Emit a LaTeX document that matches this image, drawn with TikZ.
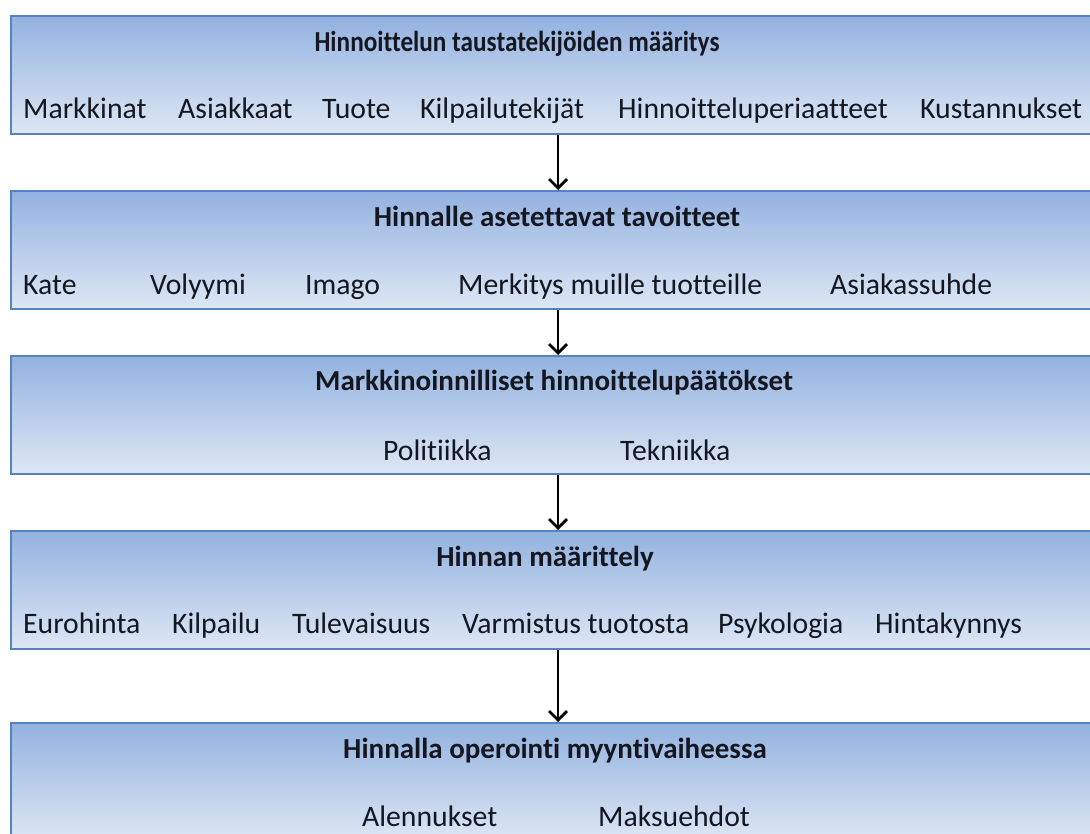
\documentclass[tikz,border=0pt]{standalone}
\usepackage{fontspec}
\setmainfont{Carlito}[Ligatures={NoCommon}]
\usetikzlibrary{arrows.meta}
\definecolor{boxtop}{RGB}{147,178,224}
\definecolor{boxbot}{RGB}{221,231,244}
\definecolor{boxline}{RGB}{84,130,194}
\definecolor{ink}{RGB}{20,22,32}
\tikzset{
  stage/.style={draw=boxline, line width=2pt, top color=boxtop, bottom color=boxbot,
    minimum width=1094pt, minimum height=118pt, anchor=north west, inner sep=0pt},
  title/.style={font=\bfseries\fontsize{29}{32}\selectfont, text=ink, anchor=base, inner sep=0pt},
  item/.style={font=\fontsize{29.7}{32}\selectfont, text=ink, anchor=base west, inner sep=0pt},
  flow/.style={-{Straight Barb[length=9pt,width=18pt]}, line width=2.8pt, black}
}
\begin{document}
\begin{tikzpicture}[x=1pt,y=-1pt]
  \useasboundingbox (0,0) rectangle (1090,834);

  % stage boxes
  \node[stage] (b1) at (10,15) {};
  \node[stage] (b2) at (10,190) {};
  \node[stage] (b3) at (10,355) {};
  \node[stage] (b4) at (10,530) {};
  \node[stage] (b5) at (10,722) {};

  % stage 1
  \node[title] (t1) at (517,52) {\scalebox{0.87}[1]{Hinnoittelun taustatekijöiden määritys}};
  \node[item] (i11) at (23,119) {Markkinat};
  \node[item] (i12) at (178,119) {Asiakkaat};
  \node[item] (i13) at (322,119) {Tuote};
  \node[item] (i14) at (420,119) {Kilpailutekijät};
  \node[item, anchor=base east] (i15) at (888,119) {Hinnoitteluperiaatteet};
  \node[item] (i16) at (920,119) {Kustannukset};

  % stage 2
  \node[title] (t2) at (557,227) {Hinnalle asetettavat tavoitteet};
  \node[item] (i21) at (23,295) {Kate};
  \node[item] (i22) at (150,295) {Volyymi};
  \node[item] (i23) at (305,295) {Imago};
  \node[item] (i24) at (458,295) {Merkitys muille tuotteille};
  \node[item] (i25) at (830,295) {Asiakassuhde};

  % stage 3
  \node[title] (t3) at (554,391) {Markkinoinnilliset hinnoittelupäätökset};
  \node[item] (i31) at (383,460) {Politiikka};
  \node[item] (i32) at (620,460) {Tekniikka};

  % stage 4
  \node[title] (t4) at (545,566) {Hinnan määrittely};
  \node[item] (i41) at (23,633) {Eurohinta};
  \node[item] (i42) at (172,633) {Kilpailu};
  \node[item] (i43) at (292,633) {Tulevaisuus};
  \node[item] (i44) at (462,633) {Varmistus tuotosta};
  \node[item] (i45) at (718,633) {Psykologia};
  \node[item] (i46) at (875,633) {Hintakynnys};

  % stage 5
  \node[title] (t5) at (555,758) {Hinnalla operointi myyntivaiheessa};
  \node[item] (i51) at (362,826) {Alennukset};
  \node[item] (i52) at (598,826) {Maksuehdot};

  % flow between stages
  \draw[flow] (b1.south) -- (b2.north);
  \draw[flow] (b2.south) -- (b3.north);
  \draw[flow] (b3.south) -- (b4.north);
  \draw[flow] (b4.south) -- (b5.north);
\end{tikzpicture}
\end{document}
